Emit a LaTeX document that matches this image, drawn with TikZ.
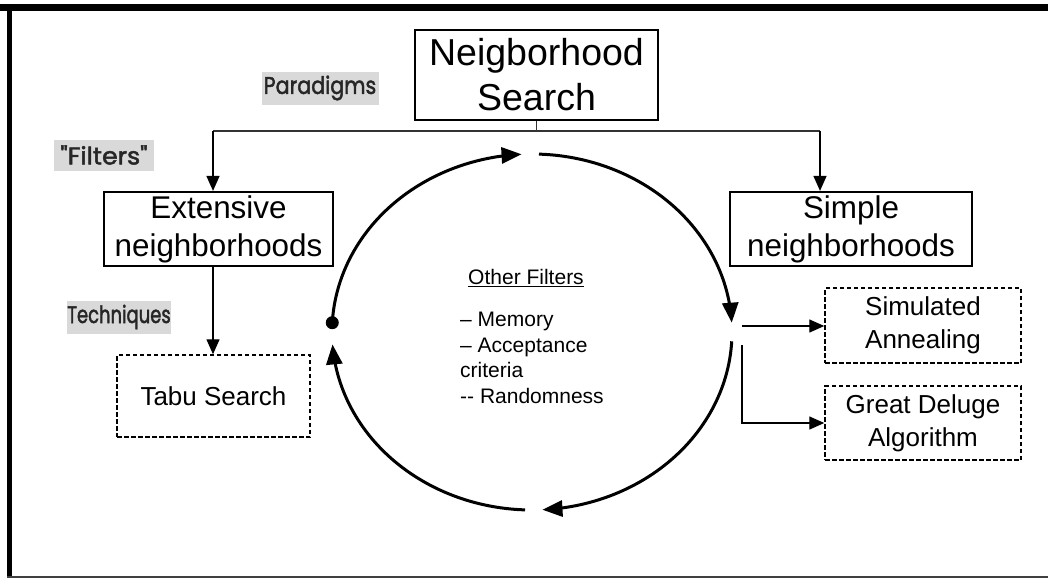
\documentclass[tikz,border=0pt]{standalone}
\usepackage{fontspec}
\usepackage{graphicx}
\setmainfont{Liberation Sans}
\newfontfamily\tagfont[FakeBold=2]{Poppins}
\newcommand{\tagtext}[2]{\scalebox{#1}[1]{#2}}
\usetikzlibrary{arrows.meta}
\begin{document}
\begin{tikzpicture}[x=1pt,y=-1pt,
  box/.style={draw, line width=2.2pt, inner sep=0pt, align=center},
  dbox/.style={draw, line width=1.4pt, dash pattern=on 4.5pt off 2.5pt, inner sep=0pt, align=center,
    font=\fontsize{26}{33}\selectfont},
  conn/.style={line width=1.3pt, -{Triangle[length=15pt,width=13pt]}},
  loopline/.style={line width=3pt, -{Triangle[length=20pt,width=16pt]}},
  tag/.style={fill=gray!30, text=black!85, inner sep=0pt, font=\tagfont\fontsize{24}{28}\selectfont}]
\useasboundingbox (0,0) rectangle (1048,578);

% frame
\fill (0,4) rectangle (1048,11);
\fill (7,4) rectangle (12,578);
\draw[line width=2pt, black!75] (7,576.5) -- (1048,576.5);

% boxes
\node[box, minimum width=243pt, minimum height=90pt, font=\fontsize{37.5}{45}\selectfont]
  (ns) at (536.5,75) {Neigborhood\\Search};
\node[box, minimum width=229pt, minimum height=74pt, font=\fontsize{31.4}{38}\selectfont]
  (ext) at (218.5,229) {Extensive\\neighborhoods};
\node[box, minimum width=242pt, minimum height=74pt, font=\fontsize{31.4}{38}\selectfont]
  (sim) at (851,229) {Simple\\neighborhoods};
\node[dbox, minimum width=193pt, minimum height=82pt] (tabu) at (213.5,396) {Tabu Search};
\node[dbox, minimum width=196pt, minimum height=75pt] (sa) at (923,325.5) {Simulated\\Annealing};
\node[dbox, minimum width=196pt, minimum height=74pt] (gd) at (923,423) {Great Deluge\\Algorithm};

% shaded labels
\node[tag, minimum width=117pt, minimum height=33pt] (par) at (320,88) {\tagtext{0.86}{Paradigms}};
\node[tag, minimum width=100pt, minimum height=31pt] (fil) at (104,155) {\tagtext{1.05}{"Filters"}};
\node[tag, minimum width=104pt, minimum height=33pt] (tech) at (119,317) {\tagtext{0.75}{Techniques}};

% centre text
\node[font=\fontsize{21}{25.5}\selectfont] (oft) at (526,278) {\underline{Other Filters}};
\node[font=\fontsize{21}{25.5}\selectfont, align=left, anchor=north west, inner sep=0pt]
  (ofl) at (460,312) {\textendash{} Memory\\\textendash{} Acceptance\\criteria\\-{}- Randomness};

% tree connectors
\coordinate (jl) at (213,131);
\coordinate (jr) at (820,131);
\draw[line width=1.3pt, black!80] (ns.south) -- (ns.south |- jl);
\draw[line width=1.3pt, black!80] (jl) -- (jr);
\draw[conn] (jl) -- (jl |- ext.north);
\draw[conn] (jr) -- (jr |- sim.north);
\draw[conn] (jl |- ext.south) -- (jl |- tabu.north);

\coordinate (fa) at (742,326);
\coordinate (fb) at (742,345);
\draw[conn] (fa) -- (sa.west |- fa);
\draw[conn] (fb) |- (gd.west);

% cycle of four arcs
\draw[loopline] plot[domain=183:267, samples=60] ({532+200*cos(\x)},{332+178*sin(\x)});
\draw[loopline] plot[domain=272:357, samples=60] ({532+200*cos(\x)},{332+178*sin(\x)});
\draw[loopline] plot[domain=3:87, samples=60] ({532+200*cos(\x)},{332+178*sin(\x)});
\draw[loopline] plot[domain=92:176, samples=60] ({532+200*cos(\x)},{332+178*sin(\x)});
\fill ({532+200*cos(183)},{332+178*sin(183)}) circle[radius=6.5pt];
\end{tikzpicture}
\end{document}
